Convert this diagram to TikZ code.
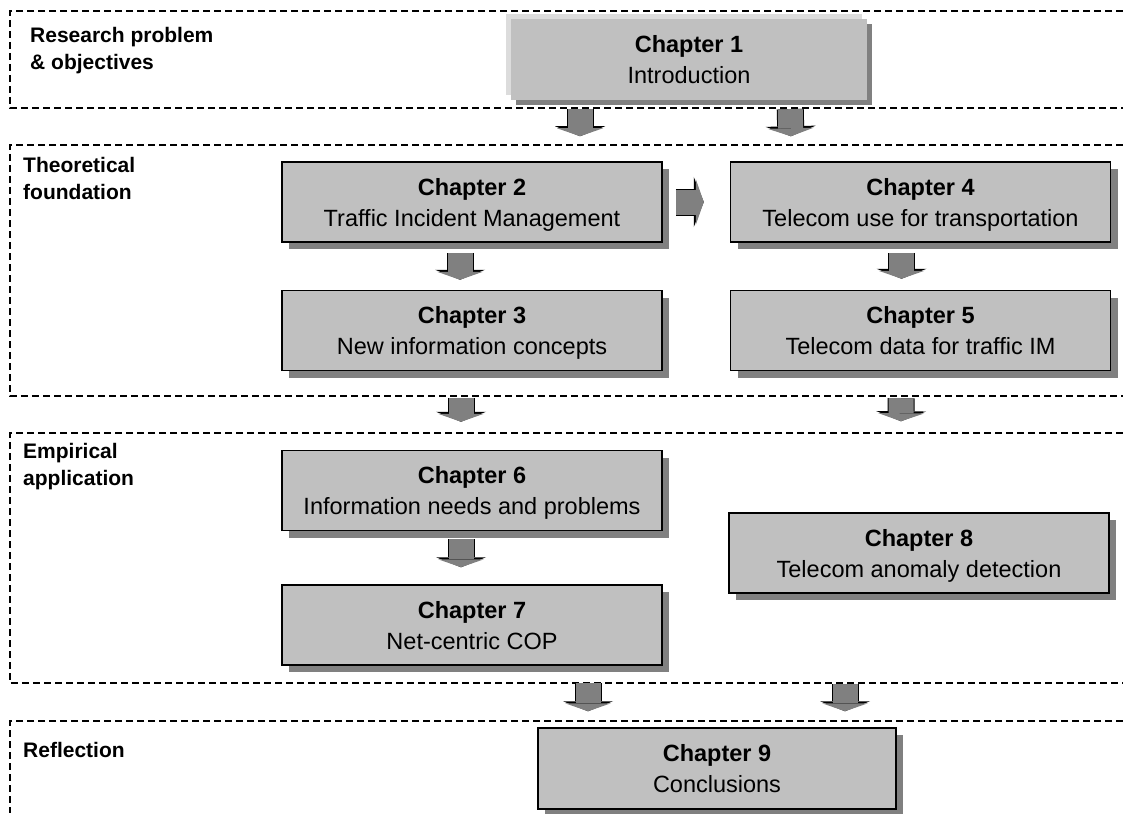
\documentclass[tikz,border=0pt]{standalone}
\usepackage{fontspec}
\setmainfont{Liberation Sans}
\usepackage{xcolor}
\definecolor{boxGray}{HTML}{C0C0C0}
\definecolor{shadowGray}{HTML}{808080}
\definecolor{liftGray}{HTML}{DCDCDC}
\definecolor{arrowGray}{HTML}{808080}
\usepackage{tikz}
\usetikzlibrary{
    arrows.meta,
    shadows,
    positioning
}
\tikzset{
    % Base style for all chapter boxes
    chapter base/.style={
        rectangle,
        align=center,
        fill=boxGray,
        font=\fontsize{23.5}{31}\selectfont,
        inner sep=0pt,
        text depth=0pt,
        minimum width=380pt,
        minimum height=80pt,
    },
    % Ordinary chapter - black border, dark shadow down right
    chapter/.style={
        chapter base,
        draw=black,
        line width=1.5pt,
        drop shadow={
            shadow xshift=7pt,
            shadow yshift=-7pt,
            fill=shadowGray,
            opacity=1
        },
    },
    % Introduction - raised panel with a light edge up left
    raised chapter/.style={
        chapter base,
        minimum width=356pt,
        minimum height=81pt,
        general shadow={
            shadow xshift=-5pt,
            shadow yshift=5pt,
            fill=liftGray
        },
        drop shadow={
            shadow xshift=5pt,
            shadow yshift=-5pt,
            fill=shadowGray,
            opacity=1
        },
    },
    % Dashed frame round each part, open on the right
    part frame/.style={
        draw=black,
        line width=2pt,
        dash pattern=on 7pt off 4pt,
    },
    % Part names in the left margin
    part label/.style={
        anchor=north west,
        align=left,
        inner sep=0pt,
        font=\fontsize{21}{27}\selectfont\bfseries,
    },
    % Fat gray block arrow
    block arrow/.style={
        -{Triangle[width=46pt, length=8pt, line width=0pt]},
        line width=25pt,
        draw=arrowGray,
        preaction={
            draw=black,
            line width=27pt,
            -{Triangle[width=50pt, length=10pt, line width=0pt]},
        },
    },
}

\begin{document}
\begin{tikzpicture}[x=1pt, y=-1pt, node distance=47pt]
    \useasboundingbox (0,0) rectangle (1123,813);

    \draw [part frame] (1123,11) -| (10,108) -- (1123,108);
    \draw [part frame] (1123,145) -| (10,396) -- (1123,396);
    \draw [part frame] (1123,433) -| (10,683) -- (1123,683);
    \draw [part frame] (1123,721) -| (10,813);

    \node (research) [part label] at (30,27) {Research problem\\\& objectives};
    \node (theory) [part label] at (23,157) {Theoretical\\foundation};
    \node (empirics) [part label] at (23,443) {Empirical\\application};
    \node (reflection) [part label] at (23,742) {Reflection};

    \node (ch1) [raised chapter] at (689,59.5) {\textbf{Chapter 1}\\Introduction};
    \node (ch2) [chapter] at (472,202) {\textbf{Chapter 2}\\Traffic Incident Management};
    \node (ch4) [chapter, right=67pt of ch2] {\textbf{Chapter 4}\\Telecom use for transportation};
    \node (ch3) [chapter, below=of ch2] {\textbf{Chapter 3}\\New information concepts};
    \node (ch5) [chapter, below=of ch4] {\textbf{Chapter 5}\\Telecom data for traffic IM};
    \node (ch6) [chapter] at (472,490.5) {\textbf{Chapter 6}\\Information needs and problems};
    \node (ch7) [chapter, below=53pt of ch6] {\textbf{Chapter 7}\\Net-centric COP};
    \node (ch8) [chapter] at (919,553) {\textbf{Chapter 8}\\Telecom anomaly detection};
    \node (ch9) [chapter, minimum width=358pt, minimum height=81pt] at (717,768.5) {\textbf{Chapter 9}\\Conclusions};

    \draw [block arrow, shorten <=9pt, shorten >=25pt] ([xshift=-109pt]ch1.south) -- ([xshift=108pt]ch2.north);
    \draw [block arrow, shorten <=9pt, shorten >=25pt] ([xshift=101pt]ch1.south) -- ([xshift=-129pt]ch4.north);
    \draw [block arrow, shorten <=13pt, shorten >=26pt] (ch2.east) -- (ch4.west);
    \draw [block arrow, shorten <=10pt, shorten >=10pt] ([xshift=-12pt]ch2.south) -- ([xshift=-12pt]ch3.north);
    \draw [block arrow, shorten <=10pt, shorten >=11pt] ([xshift=-19pt]ch4.south) -- ([xshift=-19pt]ch5.north);
    \draw [block arrow, shorten <=27pt, shorten >=28pt] ([xshift=-11pt]ch3.south) -- ([xshift=-11pt]ch6.north);
    \draw [block arrow, shorten <=27pt, shorten >=91pt] ([xshift=-19pt]ch5.south) -- ([xshift=-19pt]ch8.north);
    \draw [block arrow, shorten <=8pt, shorten >=17pt] ([xshift=-11pt]ch6.south) -- ([xshift=-11pt]ch7.north);
    \draw [block arrow, shorten <=17pt, shorten >=16pt] ([xshift=116pt]ch7.south) -- ([xshift=-129pt]ch9.north);
    \draw [block arrow, shorten <=90pt, shorten >=16pt] ([xshift=-74pt]ch8.south) -- ([xshift=128pt]ch9.north);
\end{tikzpicture}
\end{document}
